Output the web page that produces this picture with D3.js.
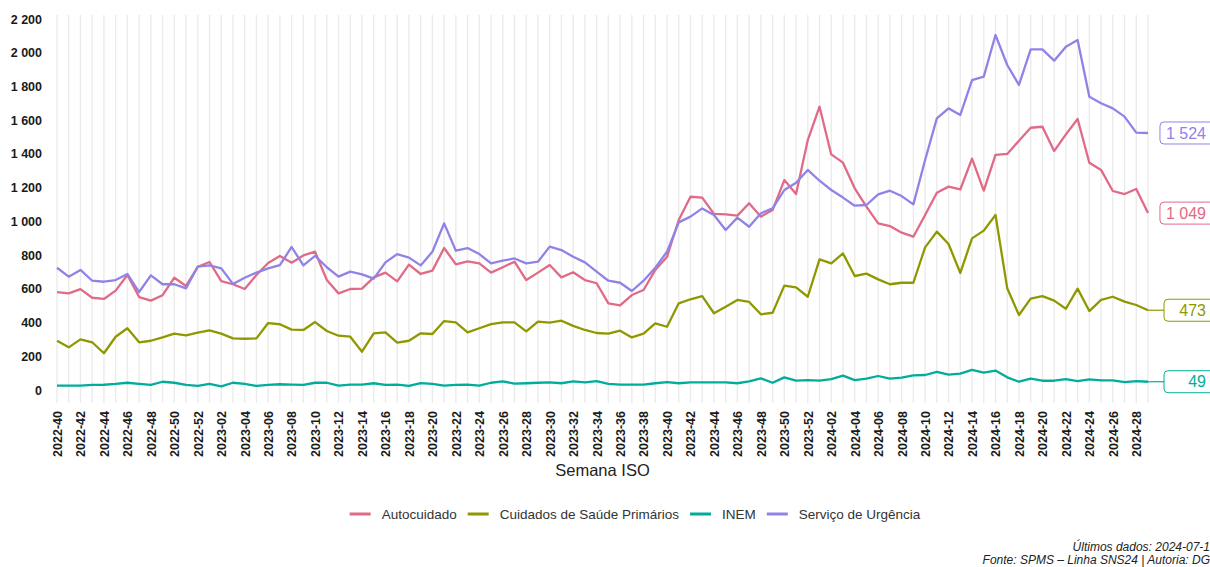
<!DOCTYPE html>
<html>
<head>
<meta charset="utf-8">
<script src="https://cdn.jsdelivr.net/npm/d3@7"></script>
<style>
  body { margin: 0; background: #fff; }
  svg { display: block; font-family: "Liberation Sans", Arial, sans-serif; }
</style>
</head>
<body>
<div id="chart-holder"></div>
<script>
// ****DATA****
const weeks = [
  "2022-40","2022-41","2022-42","2022-43","2022-44","2022-45","2022-46","2022-47","2022-48","2022-49",
  "2022-50","2022-51","2022-52","2023-01","2023-02","2023-03","2023-04","2023-05","2023-06","2023-07",
  "2023-08","2023-09","2023-10","2023-11","2023-12","2023-13","2023-14","2023-15","2023-16","2023-17",
  "2023-18","2023-19","2023-20","2023-21","2023-22","2023-23","2023-24","2023-25","2023-26","2023-27",
  "2023-28","2023-29","2023-30","2023-31","2023-32","2023-33","2023-34","2023-35","2023-36","2023-37",
  "2023-38","2023-39","2023-40","2023-41","2023-42","2023-43","2023-44","2023-45","2023-46","2023-47",
  "2023-48","2023-49","2023-50","2023-51","2023-52","2024-01","2024-02","2024-03","2024-04","2024-05",
  "2024-06","2024-07","2024-08","2024-09","2024-10","2024-11","2024-12","2024-13","2024-14","2024-15",
  "2024-16","2024-17","2024-18","2024-19","2024-20","2024-21","2024-22","2024-23","2024-24","2024-25",
  "2024-26","2024-27","2024-28","2024-29"
];
// x labels shown every other week
const weekTicks = weeks.filter((d, i) => i % 2 === 0);

const autocuidado = [
  580, 573, 598, 547, 540, 589, 682, 551, 530, 562,
  666, 617, 731, 759, 646, 627, 599, 682, 753, 795,
  755, 798, 820, 652, 573, 599, 601, 668, 696, 644,
  743, 688, 708, 842, 745, 763, 751, 696, 728, 761,
  652, 696, 741, 668, 698, 652, 633, 514, 502, 563,
  593, 712, 790, 1008, 1146, 1141, 1044, 1042, 1034, 1107,
  1028, 1067, 1245, 1162, 1482, 1680, 1397, 1348, 1196, 1087,
  988, 972, 933, 909, 1038, 1170, 1206, 1189, 1372, 1182,
  1394, 1400, 1478, 1555, 1561, 1417, 1516, 1607, 1348, 1305,
  1180, 1162, 1192, 1049
];
const cuidadosPrimarios = [
  292, 253, 300, 283, 218, 316, 366, 283, 292, 312,
  334, 324, 340, 354, 334, 306, 304, 306, 397, 390,
  358, 356, 403, 350, 322, 316, 227, 336, 342, 281,
  292, 336, 332, 409, 401, 342, 366, 391, 401, 401,
  348, 405, 399, 411, 380, 356, 338, 334, 352, 312,
  334, 395, 375, 514, 538, 557, 455, 494, 534, 522,
  449, 458, 619, 609, 553, 775, 751, 810, 676, 690,
  656, 627, 636, 636, 846, 939, 866, 694, 899, 945,
  1038, 603, 445, 542, 557, 530, 482, 601, 468, 534,
  553, 524, 504, 473
];
const inem = [
  26, 26, 26, 30, 31, 36, 43, 36, 30, 49,
  43, 30, 24, 36, 22, 43, 36, 24, 30, 34,
  32, 30, 43, 43, 26, 32, 32, 40, 30, 32,
  24, 41, 36, 26, 30, 32, 26, 43, 51, 38,
  40, 43, 45, 40, 51, 45, 53, 36, 32, 32,
  32, 40, 47, 40, 45, 45, 45, 45, 40, 51,
  69, 43, 75, 55, 59, 55, 65, 85, 59, 67,
  83, 67, 73, 87, 89, 107, 91, 97, 119, 103,
  115, 75, 49, 67, 55, 55, 65, 53, 63, 57,
  57, 47, 53, 49
];
const servicoUrgencia = [
  725, 672, 712, 648, 642, 652, 688, 581, 680, 627,
  627, 603, 731, 739, 721, 629, 666, 696, 721, 741,
  848, 739, 796, 728, 672, 702, 686, 660, 757, 806,
  785, 739, 820, 988, 826, 842, 806, 751, 767, 780,
  751, 761, 850, 830, 790, 757, 702, 648, 636, 587,
  648, 725, 820, 994, 1028, 1077, 1038, 949, 1022, 968,
  1048, 1077, 1186, 1229, 1305, 1241, 1186, 1141, 1093, 1097,
  1160, 1182, 1150, 1101, 1364, 1611, 1670, 1631, 1838, 1858,
  2105, 1927, 1809, 2020, 2020, 1953, 2036, 2075, 1739, 1700,
  1670, 1621, 1526, 1524
];
const seriesNames = ["Autocuidado", "Cuidados de Saúde Primários", "INEM", "Serviço de Urgência"];
const seriesColors = ["#E16A86", "#909800", "#00AD9A", "#9183E6"];
const yTicks = [0, 200, 400, 600, 800, 1000, 1200, 1400, 1600, 1800, 2000, 2200];

const allSeries = [autocuidado, cuidadosPrimarios, inem, servicoUrgencia].map((values, i) => ({
  name: seriesNames[i], color: seriesColors[i], values: values
}));

// ****CANVAS****
const width = 1210;
const height = 567;
const plotLeft = 57;
const plotRight = 1148;
const plotTop = 19;
const plotBottom = 390;

const svg = d3.select('#chart-holder')
  .append('svg')
  .attr('width', width)
  .attr('height', height);

// number format with a space as thousands separator
const fmt = d3.formatLocale({ decimal: ",", thousands: " ", grouping: [3], currency: ["", ""] }).format(",");

// ****SCALES****
const xScale = d3.scalePoint().domain(weeks).range([plotLeft, plotRight]);
const yScale = d3.scaleLinear().domain([0, 2200]).range([plotBottom, plotTop]);

// vertical grid, one line per week
svg.append('g')
  .attr('id', 'grid')
  .selectAll('line')
  .data(weeks)
  .join('line')
    .attr('x1', d => xScale(d))
    .attr('x2', d => xScale(d))
    .attr('y1', 15)
    .attr('y2', 403)
    .attr('stroke', '#ebebeb')
    .attr('stroke-width', 1.4);

// y axis
const yAxis = svg.append('g')
  .attr('transform', `translate(48, 0)`)
  .call(d3.axisLeft(yScale).tickValues(yTicks).tickSize(0).tickPadding(6).tickFormat(fmt));
yAxis.select('.domain').remove();
yAxis.selectAll('text')
  .style('font-family', '"Liberation Sans", Arial, sans-serif')
  .style('font-size', '12.5px')
  .style('font-weight', 'bold')
  .attr('fill', '#1a1a1a');

// x axis, labels rotated
const xAxis = svg.append('g')
  .attr('transform', `translate(0, 403)`)
  .call(d3.axisBottom(xScale).tickValues(weekTicks).tickSize(0));
xAxis.select('.domain').remove();
xAxis.selectAll('text')
  .attr('transform', 'rotate(-90)')
  .attr('x', -8)
  .attr('y', 0)
  .attr('dy', '0.35em')
  .style('text-anchor', 'end')
  .style('font-family', '"Liberation Sans", Arial, sans-serif')
  .style('font-size', '12.5px')
  .style('font-weight', 'bold')
  .attr('fill', '#1a1a1a');

svg.append('text')
  .attr('x', (plotLeft + plotRight) / 2)
  .attr('y', 476)
  .attr('text-anchor', 'middle')
  .style('font-size', '16.5px')
  .attr('fill', '#222')
  .text('Semana ISO');

// ****LINES****
const line = d3.line()
  .x((d, i) => xScale(weeks[i]))
  .y(d => yScale(d));

svg.append('g')
  .attr('id', 'lines')
  .selectAll('path')
  .data(allSeries)
  .join('path')
    .attr('d', d => line(d.values))
    .attr('fill', 'none')
    .attr('stroke', d => d.color)
    .attr('stroke-width', 2.3)
    .attr('stroke-linejoin', 'round');

// ****END LABELS****
const lastX = xScale(weeks[weeks.length - 1]);
const labelRight = 1214;
const labelGroup = svg.append('g').attr('id', 'end-labels');
allSeries.forEach(s => {
  const v = s.values[s.values.length - 1];
  const ly = yScale(v);
  const g = labelGroup.append('g');
  const rect = g.append('rect');
  const t = g.append('text')
    .attr('x', 1206)
    .attr('y', ly)
    .attr('dy', '0.35em')
    .attr('text-anchor', 'end')
    .style('font-size', '16px')
    .attr('fill', s.color)
    .text(fmt(v));
  const tw = t.node().getComputedTextLength();
  const boxW = Math.max(tw + 14, 50);
  const boxLeft = labelRight - boxW;
  rect.attr('x', boxLeft)
    .attr('y', ly - 11)
    .attr('width', boxW + 10)
    .attr('height', 22)
    .attr('rx', 4)
    .attr('fill', '#fff')
    .attr('stroke', s.color)
    .attr('stroke-width', 1);
  if (boxLeft - lastX > 14) {
    g.insert('line', 'rect')
      .attr('x1', lastX)
      .attr('x2', boxLeft)
      .attr('y1', ly)
      .attr('y2', ly)
      .attr('stroke', s.color)
      .attr('stroke-width', 1.2);
  }
});

// ****LEGEND****
const legend = svg.append('g').attr('id', 'legend');
let lx = 0;
allSeries.forEach(s => {
  legend.append('line')
    .attr('x1', lx).attr('x2', lx + 21)
    .attr('y1', 514).attr('y2', 514)
    .attr('stroke', s.color)
    .attr('stroke-width', 3);
  const t = legend.append('text')
    .attr('x', lx + 32)
    .attr('y', 514)
    .attr('dy', '0.35em')
    .style('font-size', '13.5px')
    .attr('fill', '#333')
    .text(s.name);
  lx += 32 + t.node().getComputedTextLength() + 11;
});
const legendW = lx - 11;
legend.attr('transform', `translate(${635 - legendW / 2}, 0)`);

// ****CAPTION****
svg.append('text')
  .attr('x', 1210).attr('y', 551)
  .attr('text-anchor', 'end')
  .style('font-size', '12px')
  .style('font-style', 'italic')
  .attr('fill', '#222')
  .text('Últimos dados: 2024-07-1');
svg.append('text')
  .attr('x', 1210).attr('y', 564)
  .attr('text-anchor', 'end')
  .style('font-size', '12px')
  .style('font-style', 'italic')
  .attr('fill', '#222')
  .text('Fonte: SPMS – Linha SNS24 | Autoria: DG');
</script>
</body>
</html>
